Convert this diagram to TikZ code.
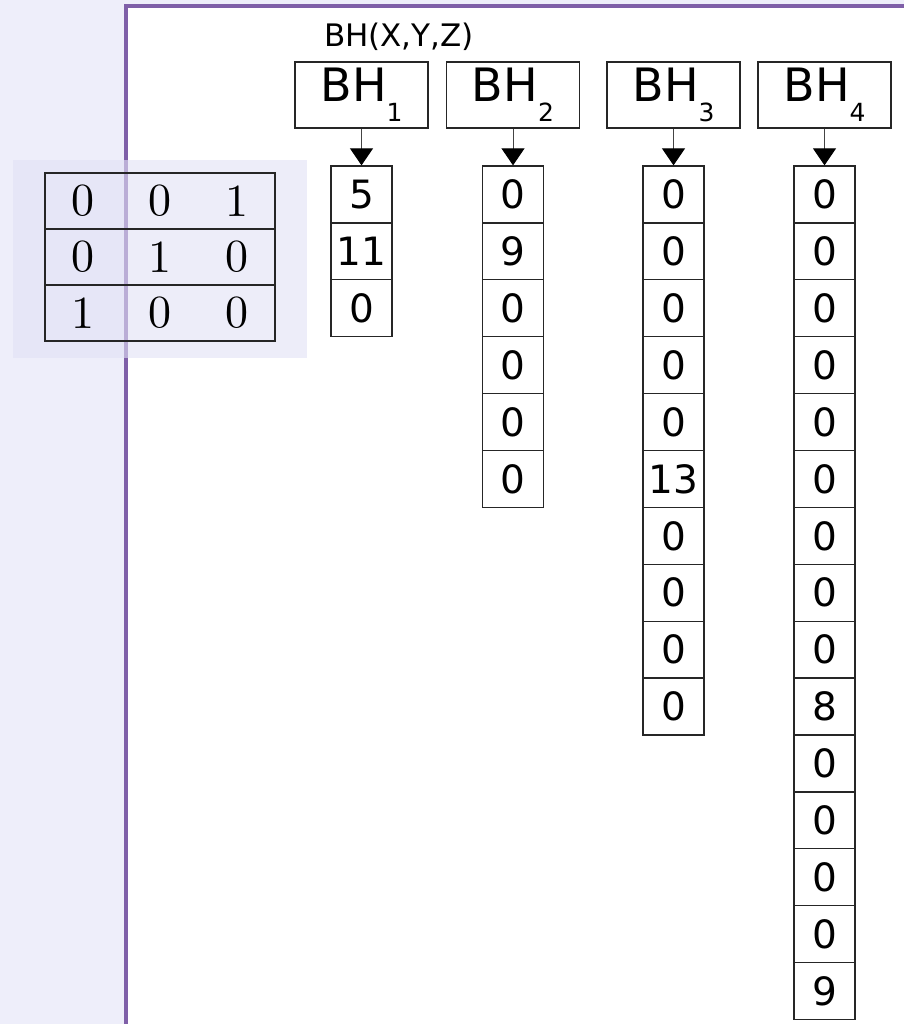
\documentclass[tikz,border=0pt]{standalone}
\usepackage{fontspec}
\newfontfamily\dvsans{DejaVu Sans}
\newfontfamily\lmten{lmroman10-regular}[Extension=.otf]
\usetikzlibrary{positioning,arrows.meta}
\definecolor{pagebg}{HTML}{EEEEFA}
\definecolor{panelline}{HTML}{7F5FA8}
\definecolor{veil}{HTML}{E2E2F6}
\definecolor{ptrgray}{HTML}{444444}
\newcommand\bhsub[1]{\raisebox{-20pt}{\fontsize{25}{25}\selectfont #1}}
\tikzset{
  cell/.style={draw=black!85, line width=1.3pt, minimum width=61pt, minimum height=56.9pt, inner sep=0pt, font=\dvsans\fontsize{39}{39}\selectfont},
  head/.style={draw=black!85, line width=1.3pt, minimum width=133pt, minimum height=66pt, inner sep=0pt, font=\dvsans\fontsize{46}{46}\selectfont},
  mrow/.style={draw=black!85, line width=1.6pt, minimum width=230pt, minimum height=56pt, inner sep=0pt},
  mval/.style={inner sep=0pt, font=\lmten\fontsize{46}{46}\selectfont},
  ptr/.style={-{Triangle[length=17pt, width=23pt, color=black]}, line width=1pt, ptrgray},
}

\begin{document}
\begin{tikzpicture}[x=1pt, y=-1pt]
  \useasboundingbox (0,0) rectangle (904,1024);
  \fill[pagebg] (0,0) rectangle (904,1024);
  % white panel with purple edge
  \fill[white] (126,6.5) rectangle (904,1024);
  \draw[panelline, line width=4pt] (126,1024) -- (126,6.5) -- (904,6.5);

  \node[anchor=base, font=\dvsans\fontsize{31}{31}\selectfont] (title) at (399,47) {BH(X,Y,Z)};

  % matrix on its veil
  \node[fill=veil, fill opacity=0.6, minimum width=294pt, minimum height=198pt, inner sep=0pt] (veil) at (160,259) {};
  \foreach \r/\y/\vals in {1/201/{0,0,1}, 2/257/{0,1,0}, 3/313/{1,0,0}} {
    \node[mrow] (m\r) at (160,\y) {};
    \foreach \v [count=\c] in \vals
      \node[mval] (m\r-\c) at ({5.5+77*\c},\y) {\v};
  }

  % buckets
  \foreach \i/\x/\vals in {1/361.5/{5,11,0},
                           2/513/{0,9,0,0,0,0},
                           3/673.5/{0,0,0,0,0,13,0,0,0,0},
                           4/824.5/{0,0,0,0,0,0,0,0,0,8,0,0,0,0,9}} {
    \node[head] (bh\i) at (\x,95) {BH\bhsub{\i}};
    \foreach \v [count=\k] in \vals
      \node[cell] (c\i-\k) at (\x,{166+56.9*(\k-0.5)}) {\v};
    \draw[ptr] (bh\i) -- (c\i-1);
  }
\end{tikzpicture}
\end{document}
